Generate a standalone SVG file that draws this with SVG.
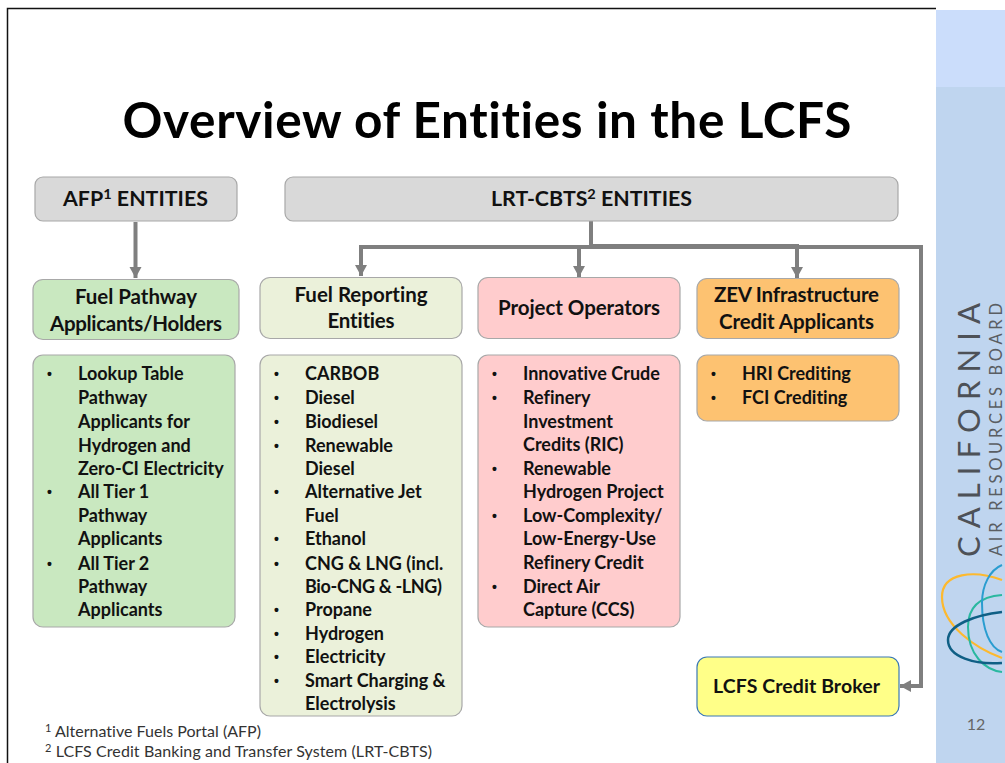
<svg xmlns="http://www.w3.org/2000/svg" width="1005" height="763" viewBox="0 0 1005 763">
<style>
text{font-family:"Lato","Open Sans","Liberation Sans",sans-serif;fill:#111;font-variant-ligatures:none}
.h{font-weight:700;font-size:20.5px;text-anchor:middle}
.b{font-weight:700;font-size:18px}
.d{font-family:"Liberation Sans",sans-serif;font-size:14px}
.box{stroke:#a8a8a8;stroke-width:1.2}
.grey{fill:#d9d9d9}.green{fill:#c9e8c0}.olive{fill:#ebf1da}.pink{fill:#ffcccd}.orange{fill:#fdc271}.yellow{fill:#ffff88;stroke:#3a78b5}
.wire{fill:none;stroke:#7f7f7f;stroke-width:4}
.foot{font-size:16px;fill:#333}
.arc{fill:none;stroke-linecap:butt}
</style>
<defs><marker id="ah" markerUnits="userSpaceOnUse" markerWidth="13" markerHeight="13" refX="11" refY="6" orient="auto"><path d="M0 0L11 6L0 12z" fill="#7f7f7f"/></marker></defs>
<rect width="1005" height="763" fill="#fff"/>
<path d="M7.500 763V8.500H936" fill="none" stroke="#111" stroke-width="1.500"/>
<rect x="936" y="10" width="69" height="77" fill="#cbddfb"/>
<rect x="936" y="87" width="69" height="676" fill="#bfd5ef"/>
<text x="487" y="138" font-size="49.500" font-weight="700" text-anchor="middle" style="fill:#000" textLength="729">Overview of Entities in the LCFS</text>

<g id="connectors">
<path class="wire" d="M135.500 222V278" marker-end="url(#ah)"/>
<path class="wire" d="M591 221V247H361V276" marker-end="url(#ah)"/>
<path class="wire" d="M579 247V277" marker-end="url(#ah)"/>
<path class="wire" d="M591 246H797V278" marker-end="url(#ah)"/>
<path class="wire" d="M591 247H921V686H900" marker-end="url(#ah)"/>
</g>

<g id="afp-entities"><rect class="box grey" x="35" y="177" width="202" height="44" rx="8"/><text class="h" x="135.500" y="206" textLength="145" lengthAdjust="spacingAndGlyphs">AFP<tspan font-size="14" dy="-7">1</tspan><tspan dy="7"> ENTITIES</tspan></text></g>
<g id="lrt-entities"><rect class="box grey" x="285" y="177" width="613" height="44" rx="8"/><text class="h" x="591.500" y="206" textLength="201" lengthAdjust="spacingAndGlyphs">LRT-CBTS<tspan font-size="14" dy="-7">2</tspan><tspan dy="7"> ENTITIES</tspan></text></g>

<g id="fuel-pathway"><rect class="box green" x="33" y="279.500" width="206" height="60" rx="10"/><text class="h" x="136" y="304" textLength="122">Fuel Pathway</text><text class="h" x="136" y="331" textLength="172">Applicants/Holders</text></g>
<g id="fuel-reporting"><rect class="box olive" x="260" y="277.500" width="202" height="61" rx="10"/><text class="h" x="361" y="302" textLength="133">Fuel Reporting</text><text class="h" x="361" y="328" textLength="67">Entities</text></g>
<g id="project-operators"><rect class="box pink" x="478" y="277.500" width="202" height="61" rx="10"/><text class="h" x="579" y="315" textLength="162">Project Operators</text></g>
<g id="zev"><rect class="box orange" x="697" y="278.500" width="202" height="60" rx="10"/><text class="h" x="796.500" y="302" textLength="165">ZEV Infrastructure</text><text class="h" x="796.500" y="329" textLength="155">Credit Applicants</text></g>

<g id="fuel-pathway-list"><rect class="box green" x="33" y="355" width="202" height="272" rx="10"/>
<text class="b"><tspan class="d" x="47" y="379">•</tspan><tspan x="78" y="380">Lookup Table</tspan><tspan x="78" y="404">Pathway</tspan><tspan x="78" y="428">Applicants for</tspan><tspan x="78" y="452">Hydrogen and</tspan><tspan x="78" y="475">Zero-CI Electricity</tspan><tspan class="d" x="47" y="497">•</tspan><tspan x="78" y="498">All Tier 1</tspan><tspan x="78" y="522">Pathway</tspan><tspan x="78" y="545">Applicants</tspan><tspan class="d" x="47" y="569">•</tspan><tspan x="78" y="570">All Tier 2</tspan><tspan x="78" y="593">Pathway</tspan><tspan x="78" y="616">Applicants</tspan></text></g>

<g id="fuel-reporting-list"><rect class="box olive" x="260" y="355" width="202" height="361" rx="10"/>
<text class="b"><tspan class="d" x="274" y="379">•</tspan><tspan x="305" y="380">CARBOB</tspan><tspan class="d" x="274" y="403">•</tspan><tspan x="305" y="404">Diesel</tspan><tspan class="d" x="274" y="427">•</tspan><tspan x="305" y="428">Biodiesel</tspan><tspan class="d" x="274" y="451">•</tspan><tspan x="305" y="452">Renewable</tspan><tspan x="305" y="475">Diesel</tspan><tspan class="d" x="274" y="497">•</tspan><tspan x="305" y="498">Alternative Jet</tspan><tspan x="305" y="522">Fuel</tspan><tspan class="d" x="274" y="544">•</tspan><tspan x="305" y="545">Ethanol</tspan><tspan class="d" x="274" y="569">•</tspan><tspan x="305" y="570">CNG &amp; LNG (incl.</tspan><tspan x="305" y="593" textLength="137">Bio-CNG &amp; -LNG)</tspan><tspan class="d" x="274" y="615">•</tspan><tspan x="305" y="616">Propane</tspan><tspan class="d" x="274" y="639">•</tspan><tspan x="305" y="640">Hydrogen</tspan><tspan class="d" x="274" y="662">•</tspan><tspan x="305" y="663">Electricity</tspan><tspan class="d" x="274" y="686">•</tspan><tspan x="305" y="687">Smart Charging &amp;</tspan><tspan x="305" y="710">Electrolysis</tspan></text></g>

<g id="project-operators-list"><rect class="box pink" x="478" y="355" width="202" height="272" rx="10"/>
<text class="b"><tspan class="d" x="492" y="379">•</tspan><tspan x="523" y="380">Innovative Crude</tspan><tspan class="d" x="492" y="403">•</tspan><tspan x="523" y="404">Refinery</tspan><tspan x="523" y="428">Investment</tspan><tspan x="523" y="451">Credits (RIC)</tspan><tspan class="d" x="492" y="474">•</tspan><tspan x="523" y="475">Renewable</tspan><tspan x="523" y="498">Hydrogen Project</tspan><tspan class="d" x="492" y="521">•</tspan><tspan x="523" y="522">Low-Complexity/</tspan><tspan x="523" y="545">Low-Energy-Use</tspan><tspan x="523" y="569">Refinery Credit</tspan><tspan class="d" x="492" y="592">•</tspan><tspan x="523" y="593">Direct Air</tspan><tspan x="523" y="616">Capture (CCS)</tspan></text></g>

<g id="zev-list"><rect class="box orange" x="697" y="355" width="202" height="66" rx="10"/>
<text class="b"><tspan class="d" x="711" y="379">•</tspan><tspan x="742" y="380">HRI Crediting</tspan><tspan class="d" x="711" y="403">•</tspan><tspan x="742" y="404">FCI Crediting</tspan></text></g>

<g id="credit-broker"><rect class="box yellow" x="697" y="657" width="202" height="59" rx="10"/><text class="b" x="796.500" y="693" text-anchor="middle" font-size="19" textLength="167" style="font-size:19.500px">LCFS Credit Broker</text></g>

<text class="foot" x="45" y="737" textLength="216"><tspan font-size="11" dy="-5">1</tspan><tspan dy="5"> Alternative Fuels Portal (AFP)</tspan></text>
<text class="foot" x="45" y="757" textLength="387"><tspan font-size="11" dy="-5">2</tspan><tspan dy="5"> LCFS Credit Banking and Transfer System (LRT-CBTS)</tspan></text>

<g id="logo">
<text transform="translate(980 557) rotate(-90)" font-size="31" textLength="254" lengthAdjust="spacing" style="fill:#4d5157">CALIFORNIA</text>
<text transform="translate(1002 556) rotate(-90)" font-size="16.500" textLength="253" lengthAdjust="spacing" style="fill:#5a5e63">AIR RESOURCES BOARD</text>
<path class="arc" stroke="#fdb92e" stroke-width="2.200" d="M1002 580C975 570 942 572 942 597C942 625 975 648 1002 658"/>
<path class="arc" stroke="#2ab8a0" stroke-width="2" d="M1002 595C975 597 968 612 968 627C968 655 985 670 1002 672"/>
<path class="arc" stroke="#2a9dd0" stroke-width="2" d="M1002 565C990 570 982 585 982 603C982 630 990 648 1002 652"/>
<path class="arc" stroke="#0f5f85" stroke-width="2.500" d="M1002 612C975 615 948 625 948 640C948 657 975 665 1002 663"/>
</g>
<text x="976" y="730" font-size="16" text-anchor="middle" style="fill:#666">12</text>
</svg>
